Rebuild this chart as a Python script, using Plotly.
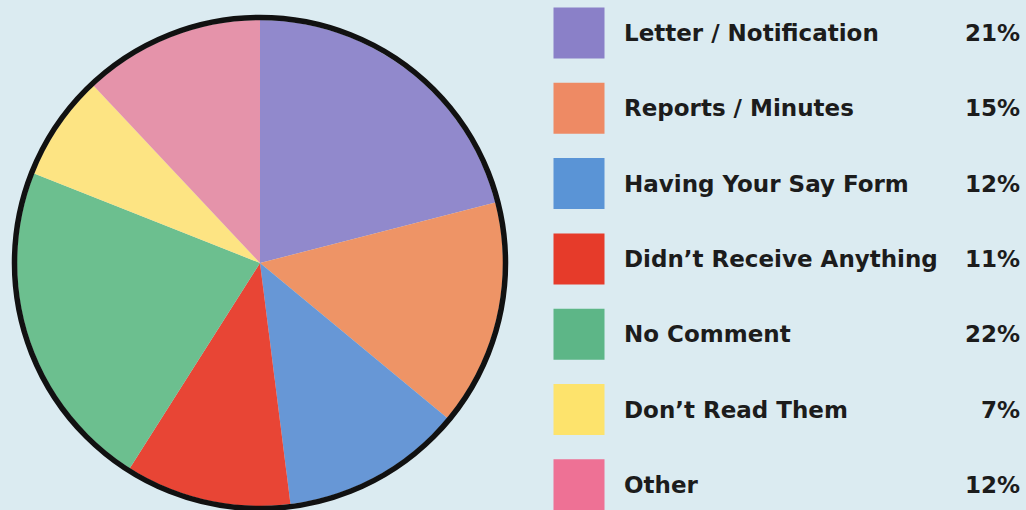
import plotly.graph_objects as go

# Survey responses: how people received / used the information
categories = [
    "Letter / Notification",
    "Reports / Minutes",
    "Having Your Say Form",
    "Didn’t Receive Anything",
    "No Comment",
    "Don’t Read Them",
    "Other",
]
percentages = [21, 15, 12, 11, 22, 7, 12]

# Slice fills and the matching (slightly stronger) legend swatches
slice_colors = ["#9189cc", "#ee9466", "#6797d6", "#e84535", "#6cbf8f", "#fde483", "#e593aa"]
swatch_colors = ["#8a80c8", "#ee8a64", "#5a94d6", "#e63b2a", "#5db687", "#fde36c", "#ee7195"]

W, H = 1026, 510
BG = "#dbebf1"

# Pie geometry in pixels
cx, cy, r = 260, 263, 243

fig = go.Figure()

fig.add_trace(go.Pie(
    labels=categories,
    values=percentages,
    sort=False,
    direction="clockwise",
    rotation=0,
    marker=dict(colors=slice_colors, line=dict(width=0)),
    textinfo="none",
    showlegend=False,
    domain=dict(
        x=[(cx - r) / W, (cx + r) / W],
        y=[(H - cy - r) / H, (H - cy + r) / H],
    ),
))

# Legend swatches drawn on a pixel-scaled overlay axis
sw_x = 579
row0, pitch = 33, 75.3
rows = [row0 + i * pitch for i in range(len(categories))]

fig.add_trace(go.Scatter(
    x=[sw_x] * len(categories),
    y=rows,
    mode="markers",
    marker=dict(symbol="square", size=51, color=swatch_colors, line=dict(width=0)),
    showlegend=False,
    hoverinfo="skip",
))

font = dict(family="DejaVu Sans", size=23, color="#1c1c1c")
annotations = []
for i, (name, pct) in enumerate(zip(categories, percentages)):
    annotations.append(dict(
        x=622, y=rows[i], xref="x", yref="y", text=f"<b>{name}</b>",
        showarrow=False, xanchor="left", yanchor="middle", font=font,
    ))
    annotations.append(dict(
        x=1022, y=rows[i], xref="x", yref="y", text=f"<b>{pct}%</b>",
        showarrow=False, xanchor="right", yanchor="middle", font=font,
    ))

# Black rim around the pie
rim = 245.5
shapes = [dict(
    type="circle", xref="x", yref="y", layer="above",
    x0=cx - rim, x1=cx + rim, y0=cy - rim, y1=cy + rim,
    line=dict(color="#111111", width=5.5), fillcolor="rgba(0,0,0,0)",
)]

fig.update_layout(
    width=W, height=H,
    margin=dict(l=0, r=0, t=0, b=0),
    paper_bgcolor=BG, plot_bgcolor=BG,
    xaxis=dict(range=[0, W], domain=[0, 1], visible=False, fixedrange=True),
    yaxis=dict(range=[H, 0], domain=[0, 1], visible=False, fixedrange=True),
    annotations=annotations,
    shapes=shapes,
)

fig.write_html("out.html")
